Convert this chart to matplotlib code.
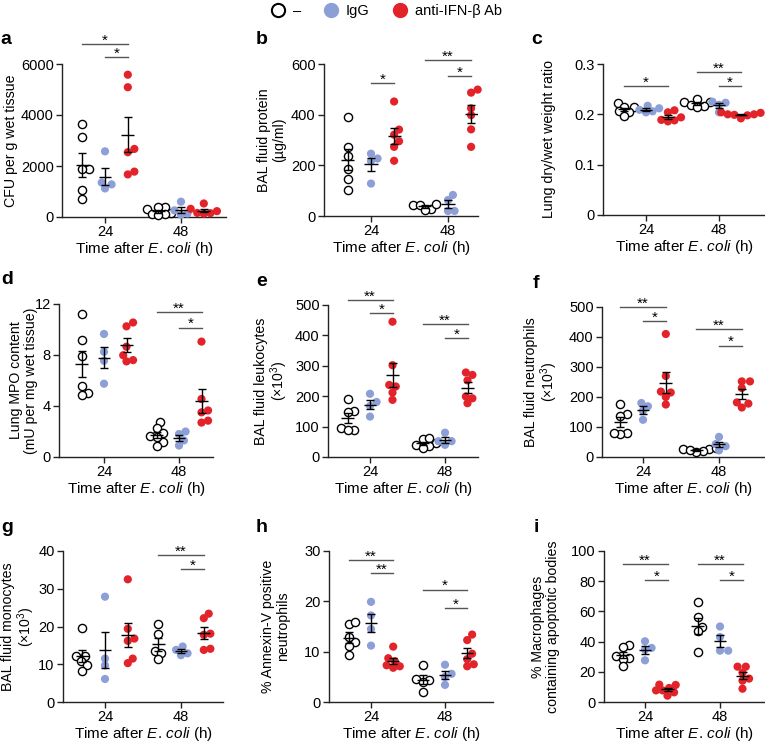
import numpy as np
import matplotlib.pyplot as plt
from matplotlib.lines import Line2D
from matplotlib.ticker import FuncFormatter

plt.rcParams['font.family'] = ['Liberation Sans', 'DejaVu Sans']
plt.rcParams['mathtext.fontset'] = 'custom'
plt.rcParams['mathtext.rm'] = 'Liberation Sans'
plt.rcParams['mathtext.it'] = 'Liberation Sans:italic'
plt.rcParams['font.size'] = 10

times = ['24', '48']
groups = ['–', 'IgG', 'anti-IFN-β Ab']
xlab = r'Time after $\mathit{E.\,coli}$ (h)'

# each list: [none, IgG, anti-IFN-b] at 24 h / 48 h
cfu_24 = [[3650, 3150, 1900, 1870, 1060, 710], [2575, 1280, 1120, 1350], [5580, 5090, 2540, 2670, 1670, 1780]]
cfu_48 = [[410, 380, 300, 150, 100, 120, 90], [600, 140, 90, 260], [530, 320, 230, 130, 160, 150]]

prot_24 = [[390, 273, 235, 186, 147, 102], [246, 227, 217, 128], [452, 341, 321, 295, 273, 218]]
prot_48 = [[28, 45, 47, 44, 24], [63, 83, 20, 20], [487, 499, 425, 398, 342, 273]]

ratio_24 = [[0.222, 0.215, 0.214, 0.205, 0.206, 0.196], [0.212, 0.204, 0.217, 0.206, 0.209], [0.204, 0.208, 0.189, 0.194, 0.188, 0.186]]
ratio_48 = [[0.225, 0.23, 0.225, 0.217, 0.219, 0.214], [0.223, 0.225, 0.204, 0.219], [0.2, 0.203, 0.199, 0.192, 0.204, 0.2, 0.198]]

mpo_24 = [[11.2, 9.15, 7.95, 5.6, 5.05, 4.85], [9.65, 8.25, 7.55, 5.75], [10.25, 10.55, 8.65, 7.98, 7.6, 7.5]]
mpo_48 = [[2.75, 2.3, 1.9, 1.65, 1.2, 0.9, 1.6], [1.8, 2.0, 0.9, 1.3], [9.05, 4.55, 3.5, 3.65, 2.7, 2.85]]

leuk_24 = [[190, 152, 149, 97, 89, 89], [208, 168, 181, 133], [445, 302, 232, 237, 212, 188]]
leuk_48 = [[58, 62, 45, 40, 36, 28], [80, 52, 52, 40], [270, 278, 252, 193, 199, 177]]

neut_24 = [[178, 144, 136, 81, 76, 81], [169, 180, 154, 124], [410, 270, 215, 218, 175, 200]]
neut_48 = [[26, 30, 20, 16, 27, 22], [67, 43, 36, 22], [252, 252, 230, 182, 178, 165]]

mono_24 = [[19.7, 12.3, 12.3, 10.9, 9.8, 8.3], [27.9, 11.5, 9.7, 6.1], [32.5, 19.4, 16.2, 16.8, 11.5, 10.3]]
mono_48 = [[20.7, 18.0, 13.4, 12.9, 11.3], [13.8, 12.9, 14.7, 12.4], [23.4, 22.2, 17.8, 18.1, 13.8, 14.1]]

annex_24 = [[15.5, 15.8, 11.9, 13.0, 11.1, 9.4], [19.9, 17.2, 14.5, 11.2], [11.0, 8.7, 8.1, 7.3, 6.8, 7.1]]
annex_48 = [[7.4, 4.4, 4.6, 3.9, 1.9], [7.4, 5.6, 5.0, 3.4], [12.3, 13.4, 8.5, 9.6, 7.1, 7.5]]

macro_24 = [[37.5, 36.6, 30.7, 29.1, 28.5, 24.1], [40.2, 35.8, 34.7, 27.6], [11.3, 11.5, 9.3, 6.4, 4.2, 7.7, 7.7]]
macro_48 = [[66, 56, 50, 47, 33], [50, 43, 34, 34], [23.4, 23.4, 19.4, 15.5, 14.1, 8.8]]

# significance bars: (time index, from group, to group, y, label)
sig_a = [(0, 0, 2, 6780, '*'), (0, 1, 2, 6270, '*')]
sig_b = [(0, 1, 2, 524, '*'), (1, 0, 2, 615, '**'), (1, 1, 2, 551, '*')]
sig_c = [(0, 0, 2, 0.2565, '*'), (1, 0, 2, 0.2843, '**'), (1, 1, 2, 0.2565, '*')]
sig_d = [(1, 0, 2, 11.37, '**'), (1, 1, 2, 10.14, '*')]
sig_e = [(0, 0, 2, 515, '**'), (0, 1, 2, 474, '*'), (1, 0, 2, 436, '**'), (1, 1, 2, 390, '*')]
sig_f = [(0, 0, 2, 499, '**'), (0, 1, 2, 453, '*'), (1, 0, 2, 426, '**'), (1, 1, 2, 371, '*')]
sig_g = [(1, 0, 2, 38.9, '**'), (1, 1, 2, 35.2, '*')]
sig_h = [(0, 0, 2, 28.2, '**'), (0, 1, 2, 25.6, '**'), (1, 0, 2, 22.3, '*'), (1, 1, 2, 18.7, '*')]
sig_i = [(0, 0, 2, 91.2, '**'), (0, 1, 2, 80.6, '*'), (1, 0, 2, 91.2, '**'), (1, 1, 2, 80.6, '*')]

panels = [
    ('a', cfu_24, cfu_48, 'CFU per g wet tissue', [0, 2000, 4000, 6000], sig_a),
    ('b', prot_24, prot_48, 'BAL fluid protein\n(µg/ml)', [0, 200, 400, 600], sig_b),
    ('c', ratio_24, ratio_48, 'Lung dry/wet weight ratio', [0, 0.1, 0.2, 0.3], sig_c),
    ('d', mpo_24, mpo_48, 'Lung MPO content\n(mU per mg wet tissue)', [0, 4, 8, 12], sig_d),
    ('e', leuk_24, leuk_48, 'BAL fluid leukocytes\n(×10$^3$)', [0, 100, 200, 300, 400, 500], sig_e),
    ('f', neut_24, neut_48, 'BAL fluid neutrophils\n(×10$^3$)', [0, 100, 200, 300, 400, 500], sig_f),
    ('g', mono_24, mono_48, 'BAL fluid monocytes\n(×10$^3$)', [0, 10, 20, 30, 40], sig_g),
    ('h', annex_24, annex_48, '% Annexin-V positive\nneutrophils', [0, 10, 20, 30], sig_h),
    ('i', macro_24, macro_48, '% Macrophages\ncontaining apoptotic bodies', [0, 20, 40, 60, 80, 100], sig_i),
]

# layout in pixels: left, right, top, bottom, x of 24 tick, x of 48 tick, ylabel x, letter x
layout = {
    'a': (62, 226, 64, 217, 105, 181, 18, 0),
    'b': (324, 478, 64, 216, 371, 448, 286, 255),
    'c': (603, 765, 64, 215, 646, 719, 556, 530),
    'd': (59, 213, 304, 457, 104, 179, 38, 0),
    'e': (328, 478, 305, 457, 370, 445, 290, 255),
    'f': (602, 765, 307, 457, 643, 719, 560, 532),
    'g': (63, 223, 551, 702, 105, 181, 37, 0),
    'h': (329, 493, 551, 702, 371, 445, 290, 255),
    'i': (604, 765, 551, 702, 645, 720, 560, 533),
}

W, H = 765, 747
offs = [-0.3, 0.0, 0.3]
face = ['white', '#8c9fd6', '#e3232a']
edge = ['black', 'none', 'none']
dot = 8.2  # marker diameter in px


def swarm(ax, xc, vals):
    # simple beeswarm in pixel space, dots may overlap a little
    pts = ax.transData.transform(np.column_stack([np.full(len(vals), xc), vals]))
    order = np.argsort(vals)
    placed = []
    xs = np.zeros(len(vals))
    for i in order:
        px, py = pts[i]
        best = None
        for k in range(60):
            for s in ([0] if k == 0 else [1, -1]):
                off = s * k * dot * 0.2
                if all((px + off - qx) ** 2 + (py - qy) ** 2 >= (dot * 0.8) ** 2 for qx, qy in placed):
                    best = off
                    break
            if best is not None:
                break
        placed.append((px + best, py))
        xs[i] = px + best
    return ax.transData.inverted().transform(np.column_stack([xs, pts[:, 1]]))[:, 0]


fig = plt.figure(figsize=(W / 100, H / 100), dpi=100)

for letter, d24, d48, ylab, yt, sigs in panels:
    L, R, T, B, t24, t48, ylx, lx = layout[letter]
    ax = fig.add_axes([L / W, 1 - B / H, (R - L) / W, (B - T) / H])
    unit = t48 - t24
    ax.set_xlim(-(t24 - L) / unit, (R - t24) / unit)
    ax.set_ylim(yt[0], yt[-1])
    ax.set_yticks(yt)
    ax.yaxis.set_major_formatter(FuncFormatter(lambda v, _: '%g' % v))
    ax.set_xticks([0, 1])
    ax.set_xticklabels(times)
    for sp in ['top', 'right']:
        ax.spines[sp].set_visible(False)
    for sp in ['left', 'bottom']:
        ax.spines[sp].set_linewidth(1.0)
        ax.spines[sp].set_color('#222222')
    ax.tick_params(direction='out', length=4, width=1, color='#222222', labelsize=10.5, pad=2)

    for ti, data in enumerate([d24, d48]):
        for gi, vals in enumerate(data):
            xc = ti + offs[gi]
            vals = np.array(vals, dtype=float)
            xs = swarm(ax, xc, vals)
            ax.scatter(xs, vals, s=(dot * 0.72) ** 2, facecolor=face[gi], edgecolor=edge[gi],
                       linewidth=1.0, zorder=3, clip_on=False)
            m = vals.mean()
            se = vals.std(ddof=1) / np.sqrt(len(vals))
            ax.hlines(m, xc - 0.085, xc + 0.085, color='black', lw=1, zorder=4)
            ax.errorbar(xc, m, yerr=se, fmt='none', ecolor='black', elinewidth=1,
                        capsize=2.6, capthick=1, zorder=4)

    for ti, g0, g1, y, lab in sigs:
        x0, x1 = ti + offs[g0], ti + offs[g1]
        ax.plot([x0, x1], [y, y], color='#555555', lw=1, clip_on=False)
        ax.annotate(lab, xy=((x0 + x1) / 2, y), xytext=(0, -2.5), textcoords='offset points',
                    ha='center', va='bottom', fontsize=11, annotation_clip=False)

    ax.set_ylabel(ylab, fontsize=10.2, linespacing=1.05)
    ax.yaxis.set_label_coords((ylx - L) / (R - L), 0.5)
    ax.set_xlabel(xlab, fontsize=11, labelpad=0.5)
    fig.text(lx / W + 0.001, 1 - (T - 24) / H, letter, fontsize=14, fontweight='bold', va='center')

handles = [Line2D([], [], ls='none', marker='o', markersize=9.5, markerfacecolor=face[i],
                  markeredgecolor='black' if i == 0 else face[i], markeredgewidth=1.5)
           for i in range(3)]
fig.legend(handles, groups, loc='upper center', bbox_to_anchor=(0.505, 1.012), ncol=3,
           frameon=False, fontsize=10.5, handletextpad=0.5, columnspacing=1.6, handlelength=1.0)

fig.savefig('out.png', dpi=100)
